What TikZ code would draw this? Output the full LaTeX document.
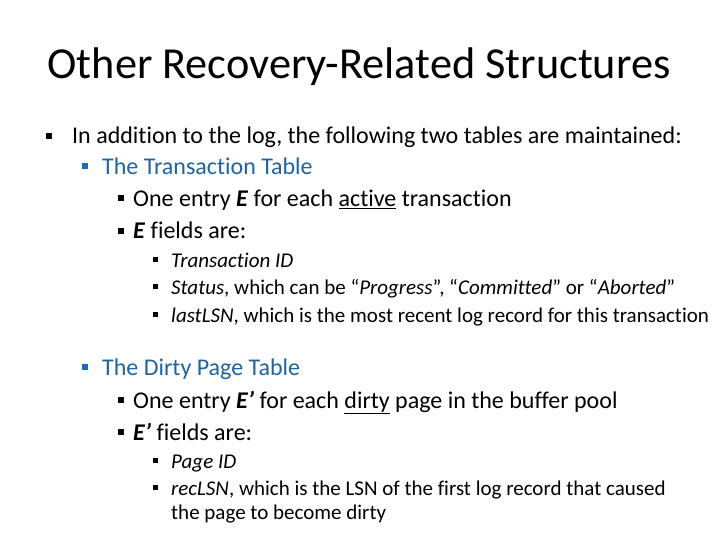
\documentclass[tikz,border=0pt]{standalone}
\usepackage{fontspec}
\setmainfont{Carlito}[Ligatures={NoCommon}]
\definecolor{headblue}{RGB}{31,100,160}
\definecolor{bulblue}{RGB}{24,108,182}
\tikzset{
  txt/.style={anchor=base west,inner sep=0pt},
  bul/.style={fill=black,inner sep=0pt,minimum size=#1},
  bul/.default=6pt
}
\newcommand{\lvbig}{\fontsize{24}{28}\selectfont}
\newcommand{\lvsmall}{\fontsize{21}{24}\selectfont}
\begin{document}
\begin{tikzpicture}[x=1pt,y=1pt,yscale=-1]
\useasboundingbox (0,0) rectangle (720,540);
\fill[white] (0,0) rectangle (720,540);
\draw (359,79) node [anchor=base,inner sep=0pt] (title) {\fontsize{44.3}{50}\selectfont Other Recovery-Related Structures};
% level 1
\draw (49,136) node [bul=6.3pt] (b1) {};
\draw (72,144) node [txt] (l1) {\lvbig In addition to the log, the following two tables are maintained:};
% transaction table
\draw (84.7,166.5) node [bul,fill=bulblue] (b2) {};
\draw (102,174.3) node [txt,text=headblue] (l2) {\lvbig The Transaction Table};
\draw (120.5,198.5) node [bul] (b3) {};
\draw (133,206.7) node [txt] (l3) {\lvbig One entry \textbf{\textit{E}} for each \underline{active} transaction};
\draw (120.5,231) node [bul] (b4) {};
\draw (133,239) node [txt] (l4) {\lvbig \textbf{\textit{E}} fields are:};
\draw (155.5,259.2) node [bul=5pt] (b5) {};
\draw (171,267) node [txt] (l5) {\lvsmall \textit{Transaction ID}};
\draw (155.5,286.7) node [bul=5pt] (b6) {};
\draw (171,294.5) node [txt] (l6) {\lvsmall \textit{Status}, which can be “\textit{Progress}”, “\textit{Committed}” or “\textit{Aborted}”};
\draw (155.5,314.2) node [bul=5pt] (b7) {};
\draw (171,322) node [txt] (l7) {\lvsmall \textit{lastLSN}, which is the most recent log record for this transaction};
% dirty page table
\draw (85,367.2) node [bul,fill=bulblue] (b8) {};
\draw (102,375.7) node [txt,text=headblue] (l8) {\lvbig The Dirty Page Table};
\draw (121.3,399.5) node [bul] (b9) {};
\draw (133,408) node [txt] (l9) {\lvbig One entry \textbf{\textit{E’}} for each \underline{dirty} page in the buffer pool};
\draw (121.3,432) node [bul] (b10) {};
\draw (133,440) node [txt] (l10) {\lvbig \textbf{\textit{E’}} fields are:};
\draw (155.5,460.2) node [bul=5pt] (b11) {};
\draw (171,468) node [txt] (l11) {\lvsmall \textit{Page ID}};
\draw (155.5,487.2) node [bul=5pt] (b12) {};
\draw (171,495) node [txt] (l12) {\lvsmall \textit{recLSN}, which is the LSN of the first log record that caused};
\draw (171,519) node [txt] (l13) {\lvsmall the page to become dirty};
\end{tikzpicture}
\end{document}
